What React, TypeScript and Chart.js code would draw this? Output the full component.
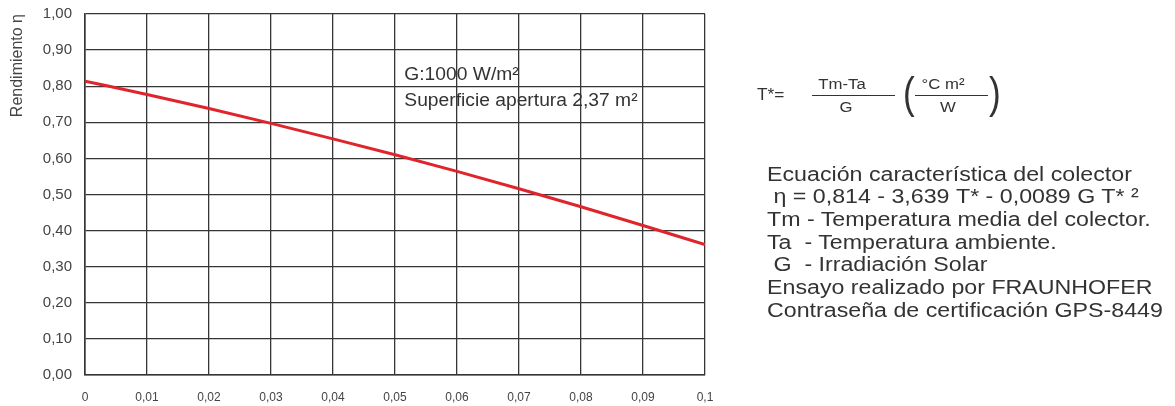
import React, { useEffect, useRef } from 'react';
import { Chart, registerables } from 'chart.js';

Chart.register(...registerables);

const FONT = '"Liberation Sans", Arial, Helvetica, sans-serif';

// Data
const tStar = [0, 0.01, 0.02, 0.03, 0.04, 0.05, 0.06, 0.07, 0.08, 0.09, 0.1];
const efficiency = [0.814, 0.777, 0.738, 0.697, 0.654, 0.61, 0.564, 0.516, 0.466, 0.414, 0.361];

const xTickLabels = ['0', '0,01', '0,02', '0,03', '0,04', '0,05', '0,06', '0,07', '0,08', '0,09', '0,1'];
const yTickLabels = ['0,00', '0,10', '0,20', '0,30', '0,40', '0,50', '0,60', '0,70', '0,80', '0,90', '1,00'];

const yAxisTitle = 'Rendimiento η';
const annotationLines = ['G:1000 W/m²', 'Superficie apertura 2,37 m²'];
const annotationX = 0.0515;
const annotationY = [0.831, 0.759];

const legendLines = [
  'Ecuación característica del colector',
  ' η = 0,814 - 3,639 T* - 0,0089 G T* ²',
  'Tm - Temperatura media del colector.',
  'Ta  - Temperatura ambiente.',
  ' G  - Irradiación Solar',
  'Ensayo realizado por FRAUNHOFER',
  'Contraseña de certificación GPS-8449',
];

const GRID = '#363636';
const TEXT = '#333333';

const annotationPlugin = {
  id: 'plotAnnotation',
  afterDatasetsDraw(chart: any) {
    const { ctx, scales } = chart;
    const x = scales.x;
    const y = scales.y;
    ctx.save();
    ctx.fillStyle = TEXT;
    ctx.font = `17.5px ${FONT}`;
    ctx.textBaseline = 'middle';
    ctx.textAlign = 'left';
    annotationLines.forEach((t, i) => {
      const px = x.getPixelForValue(annotationX);
      const py = y.getPixelForValue(annotationY[i]);
      ctx.save();
      ctx.translate(px, py);
      ctx.scale(1.1, 1);
      ctx.fillText(t, 0, 0);
      ctx.restore();
    });
    ctx.restore();
  },
};

function Txt(props: { x: number; cy: number; size: number; lh: number; sx?: number; center?: boolean; children: any; weight?: number }) {
  const { x, cy, size, lh, sx = 1.15, center = false, children, weight = 400 } = props;
  return (
    <div
      style={{
        position: 'absolute',
        left: x,
        top: cy - lh / 2,
        fontSize: size,
        lineHeight: lh + 'px',
        whiteSpace: 'pre',
        fontFamily: FONT,
        fontWeight: weight,
        color: TEXT,
        transform: center ? `translateX(-50%) scaleX(${sx})` : `scaleX(${sx})`,
        transformOrigin: center ? 'center center' : 'left center',
      }}
    >
      {children}
    </div>
  );
}

function HLine(props: { x1: number; x2: number; y: number }) {
  return (
    <div
      style={{
        position: 'absolute',
        left: props.x1,
        top: props.y,
        width: props.x2 - props.x1,
        height: 1,
        background: TEXT,
      }}
    />
  );
}

export default function App() {
  const ref = useRef<HTMLCanvasElement | null>(null);

  useEffect(() => {
    if (!ref.current) return;
    const chart = new Chart(ref.current, {
      type: 'line',
      data: {
        datasets: [
          {
            data: tStar.map((t, i) => ({ x: t, y: efficiency[i] })),
            borderColor: '#e0242b',
            borderWidth: 3,
            pointRadius: 0,
            fill: false,
            cubicInterpolationMode: 'monotone',
          },
        ],
      },
      options: {
        animation: false,
        responsive: false,
        maintainAspectRatio: false,
        layout: { padding: { top: 14, right: 470, bottom: 0, left: 0 } },
        plugins: { legend: { display: false }, tooltip: { enabled: false } },
        scales: {
          x: {
            type: 'linear',
            min: 0,
            max: 0.1,
            ticks: {
              stepSize: 0.01,
              padding: 15,
              color: '#444',
              font: { size: 12, family: FONT },
              maxRotation: 0,
              autoSkip: false,
              callback: (_v: any, i: number) => xTickLabels[i],
            },
            grid: { color: GRID, lineWidth: 1.3, drawTicks: false },
            border: { color: GRID, width: 1.6 },
            afterFit: (s: any) => {
              s.height = 31;
              s.paddingLeft = 0;
              s.paddingRight = 0;
            },
          },
          y: {
            type: 'linear',
            min: 0,
            max: 1,
            ticks: {
              stepSize: 0.1,
              padding: 13,
              color: '#444',
              font: { size: 15, family: FONT },
              callback: (_v: any, i: number) => yTickLabels[i],
            },
            grid: { color: GRID, lineWidth: 1.3, drawTicks: false },
            border: { color: GRID, width: 1.6 },
            title: {
              display: true,
              text: yAxisTitle,
              align: 'end',
              color: '#444',
              font: { size: 16, family: FONT },
              padding: { top: 8, bottom: 0 },
            },
            afterFit: (s: any) => {
              s.width = 85;
              s.paddingTop = 0;
              s.paddingBottom = 0;
            },
          },
        },
      } as any,
      plugins: [annotationPlugin],
    });
    return () => chart.destroy();
  }, []);

  return (
    <div style={{ position: 'fixed', left: 0, top: 0, width: 1175, height: 406, background: '#fff', overflow: 'hidden' }}>
      <canvas ref={ref} width={1175} height={406} style={{ position: 'absolute', left: 0, top: 0, width: 1175, height: 406 }} />

      <Txt x={757} cy={95} size={16} lh={20} sx={1.08}>T*=</Txt>
      <Txt x={842} cy={84} size={15.5} lh={20} sx={1.08} center>Tm-Ta</Txt>
      <HLine x1={812} x2={895} y={95} />
      <Txt x={846} cy={107} size={15.5} lh={20} sx={1.08} center>G</Txt>

      <Txt x={903} cy={93} size={44} lh={50} sx={0.8}>(</Txt>
      <Txt x={943} cy={84} size={15.5} lh={20} sx={1.08} center>°C m²</Txt>
      <HLine x1={915} x2={988} y={95} />
      <Txt x={948} cy={107} size={15.5} lh={20} sx={1.08} center>W</Txt>
      <Txt x={989} cy={93} size={44} lh={50} sx={0.8}>)</Txt>

      {legendLines.map((t, i) => (
        <Txt key={i} x={767} cy={174 + i * 22.7} size={20} lh={22.7} sx={1.16}>
          {t}
        </Txt>
      ))}
    </div>
  );
}
